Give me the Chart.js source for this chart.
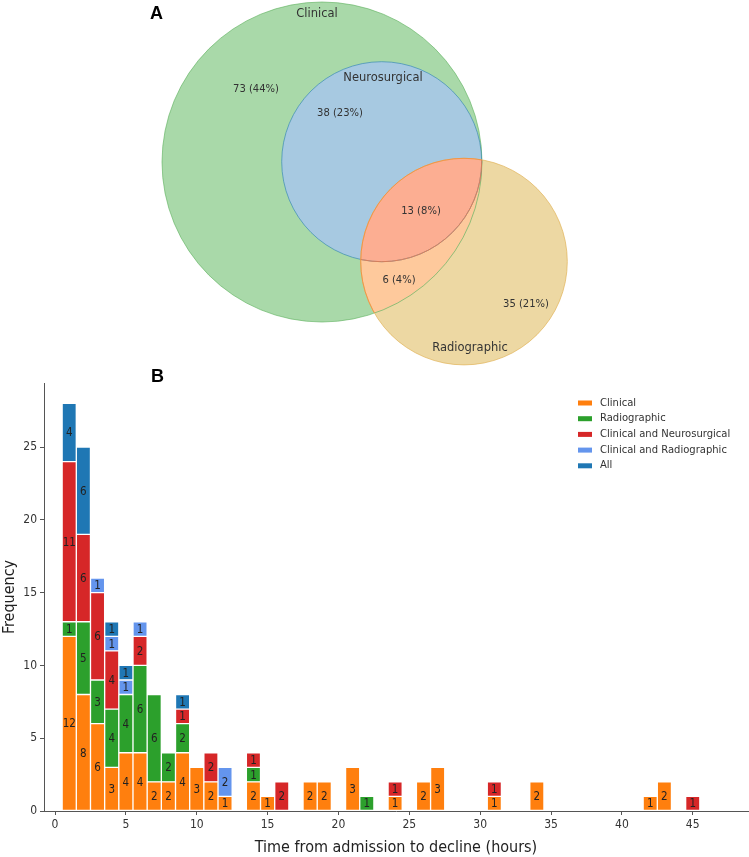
<!DOCTYPE html>
<html>
<head>
<meta charset="utf-8">
<script src="https://cdn.jsdelivr.net/npm/chart.js@4.4.1/dist/chart.umd.min.js"></script>
<style>
  body { margin: 0; background: #fff; width: 749px; height: 857px; position: relative; overflow: hidden; }
  #venn { position: absolute; left: 0; top: 0; }
  #hist { position: absolute; left: 0; top: 370px; }
  .tag { position: absolute; font: bold 18px "Liberation Sans", Arial, sans-serif; color: #000; }
</style>
</head>
<body>
<canvas id="venn" width="749" height="370"></canvas>
<canvas id="hist" width="749" height="487"></canvas>
<div class="tag" style="left:150px; top:3px;">A</div>
<div class="tag" style="left:151px; top:366px;">B</div>
<script>
// ===== DATA =====
// Venn: regions = clinical only, clinical+neuro, all three, clinical+radio, radio only
const vennSets = ['Clinical', 'Neurosurgical', 'Radiographic'];
const vennRegions = ['C', 'CN', 'CNR', 'CR', 'R'];
const vennCounts = [73, 38, 13, 6, 35];

// histogram: hour bins that have any patient
const hours = [1, 2, 3, 4, 5, 6, 7, 8, 9, 10, 11, 12, 14, 15, 16, 18, 19, 21, 22, 24, 26, 27, 31, 34, 42, 43, 45];
const clinical      = [12, 8, 6, 3, 4, 4, 2, 2, 4, 3, 2, 1, 2, 1, 0, 2, 2, 3, 0, 1, 2, 3, 1, 2, 1, 2, 0];
const radiographic  = [1, 5, 3, 4, 4, 6, 6, 2, 2, 0, 0, 0, 1, 0, 0, 0, 0, 0, 1, 0, 0, 0, 0, 0, 0, 0, 0];
const clinNeuro     = [11, 6, 6, 4, 0, 2, 0, 0, 1, 0, 2, 0, 1, 0, 2, 0, 0, 0, 0, 1, 0, 0, 1, 0, 0, 0, 1];
const clinRadio     = [0, 0, 1, 1, 1, 1, 0, 0, 0, 0, 0, 2, 0, 0, 0, 0, 0, 0, 0, 0, 0, 0, 0, 0, 0, 0, 0];
const allThree      = [4, 6, 0, 1, 1, 0, 0, 0, 1, 0, 0, 0, 0, 0, 0, 0, 0, 0, 0, 0, 0, 0, 0, 0, 0, 0, 0];
const seriesNames = ['Clinical', 'Radiographic', 'Clinical and Neurosurgical', 'Clinical and Radiographic', 'All'];
const xTicks = [0, 5, 10, 15, 20, 25, 30, 35, 40, 45];
const yTicks = [0, 5, 10, 15, 20, 25];

// ===== VENN LAYOUT (pixels of the top panel) =====
const circles = [
  { cx: 322, cy: 162, r: 160 },   // clinical
  { cx: 381.7, cy: 161.7, r: 100 }, // neurosurgical
  { cx: 464, cy: 261.6, r: 103.3 }  // radiographic
];
const setLabelPos = [[317, 14], [383, 78], [470, 348]];
const countPos = [[256, 89], [340, 113], [421, 211], [399, 280], [526, 304]];
const regionFill = { C: '#a9d9a9', CN: '#a7c9e1', CNR: '#fcae92', CR: '#fec99c', R: '#edd8a3' };

const vennPlugin = {
  id: 'vennPlugin',
  afterDraw(chart) {
    const ctx = chart.ctx;
    const sx = chart.scales.x, sy = chart.scales.y;
    const path = (c) => {
      const x = sx.getPixelForValue(c.cx), y = sy.getPixelForValue(c.cy);
      const r = sx.getPixelForValue(c.cx + c.r) - x;
      ctx.beginPath();
      ctx.arc(x, y, r, 0, Math.PI * 2);
    };
    const [C, N, R] = circles;
    ctx.save();
    // base fills
    path(R); ctx.fillStyle = regionFill.R; ctx.fill();
    path(C); ctx.fillStyle = regionFill.C; ctx.fill();
    path(N); ctx.fillStyle = regionFill.CN; ctx.fill();
    // clinical & radiographic
    ctx.save(); path(C); ctx.clip();
    path(R); ctx.fillStyle = regionFill.CR; ctx.fill();
    ctx.restore();
    // all three
    ctx.save(); path(N); ctx.clip();
    path(R); ctx.fillStyle = regionFill.CNR; ctx.fill();
    ctx.restore();
    // edges
    ctx.lineWidth = 1;
    path(C); ctx.strokeStyle = 'rgba(90,175,90,0.6)'; ctx.stroke();
    path(N); ctx.strokeStyle = 'rgba(60,140,180,0.7)'; ctx.stroke();
    path(R); ctx.strokeStyle = 'rgba(225,180,90,0.7)'; ctx.stroke();
    ctx.save(); path(C); ctx.clip();
    path(R); ctx.strokeStyle = 'rgba(245,140,60,0.8)'; ctx.stroke();
    ctx.restore();
    ctx.save(); path(R); ctx.clip();
    path(N); ctx.strokeStyle = 'rgba(240,120,70,0.8)'; ctx.stroke();
    ctx.restore();

    // text
    ctx.fillStyle = '#333';
    ctx.textAlign = 'center';
    ctx.textBaseline = 'middle';
    ctx.font = '11.5px "DejaVu Sans"';
    vennSets.forEach((s, i) => {
      ctx.fillText(s, sx.getPixelForValue(setLabelPos[i][0]), sy.getPixelForValue(setLabelPos[i][1]));
    });
    const total = vennCounts.reduce((a, b) => a + b, 0);
    ctx.font = '10px "DejaVu Sans"';
    vennCounts.forEach((v, i) => {
      const pct = Math.round(v / total * 100);
      ctx.fillText(v + ' (' + pct + '%)', sx.getPixelForValue(countPos[i][0]), sy.getPixelForValue(countPos[i][1]));
    });
    ctx.restore();
  }
};

new Chart(document.getElementById('venn'), {
  type: 'scatter',
  data: { datasets: [] },
  options: {
    responsive: false,
    animation: false,
    devicePixelRatio: 1,
    layout: { padding: 0 },
    plugins: { legend: { display: false }, tooltip: { enabled: false } },
    scales: {
      x: { type: 'linear', min: 0, max: 749, display: false },
      y: { type: 'linear', min: 0, max: 370, reverse: true, display: false }
    }
  },
  plugins: [vennPlugin]
});

// ===== HISTOGRAM =====
const colors = ['#ff7f0e', '#2ca02c', '#d62728', '#6495ed', '#1f77b4'];
const seriesData = [clinical, radiographic, clinNeuro, clinRadio, allThree];

const barLabels = {
  id: 'barLabels',
  afterDatasetsDraw(chart) {
    const ctx = chart.ctx;
    ctx.save();
    ctx.font = '11.5px "Liberation Sans Narrow", "DejaVu Sans Condensed", Lato, sans-serif';
    ctx.fillStyle = '#222';
    ctx.textAlign = 'center';
    ctx.textBaseline = 'middle';
    chart.data.datasets.forEach((ds, i) => {
      chart.getDatasetMeta(i).data.forEach((bar, j) => {
        const v = ds.data[j].y;
        if (!v) return;
        ctx.fillText(String(v), bar.x, (bar.y + bar.base) / 2 + 1);
      });
    });
    ctx.restore();
  }
};

const legendBox = {
  id: 'legendBox',
  afterDraw(chart) {
    const ctx = chart.ctx;
    ctx.save();
    ctx.font = '10px "DejaVu Sans"';
    ctx.textBaseline = 'middle';
    chart.data.datasets.forEach((ds, i) => {
      const y = 33 + i * 15.7;
      ctx.fillStyle = ds.backgroundColor;
      ctx.fillRect(578, y - 2.5, 14, 5);
      ctx.fillStyle = '#333';
      ctx.fillText(ds.label, 600, y);
    });
    ctx.restore();
  }
};

const axisFont = '"Liberation Sans Narrow", "DejaVu Sans Condensed", Lato, sans-serif';

new Chart(document.getElementById('hist'), {
  type: 'bar',
  data: {
    datasets: seriesData.map((arr, i) => ({
      label: seriesNames[i],
      data: arr.map((v, j) => ({ x: hours[j], y: v || null })),
      backgroundColor: colors[i],
      borderColor: '#ffffff',
      borderWidth: 1,
      borderSkipped: false,
      barPercentage: 1,
      categoryPercentage: 1
    }))
  },
  options: {
    responsive: false,
    animation: false,
    devicePixelRatio: 1,
    layout: { padding: { top: 13, right: 1, left: 0, bottom: 0 } },
    plugins: { legend: { display: false }, tooltip: { enabled: false } },
    scales: {
      x: {
        type: 'linear',
        stacked: true,
        offset: false,
        min: -0.78,
        max: 48.9,
        afterBuildTicks: (s) => { s.ticks = xTicks.map(v => ({ value: v })); },
        afterFit: (s) => { s.height = 46; },
        grid: { display: true, offset: false, drawOnChartArea: false, drawTicks: true, tickLength: 4, color: '#555' },
        border: { display: true, color: '#555', width: 1 },
        ticks: { color: '#333', font: { family: axisFont, size: 12 }, padding: 3, maxRotation: 0 },
        title: {
          display: true,
          text: 'Time from admission to decline (hours)',
          color: '#222',
          font: { family: axisFont, size: 16 },
          padding: { top: 0, bottom: 0 }
        }
      },
      y: {
        stacked: true,
        min: 0,
        max: 29.4,
        afterBuildTicks: (s) => { s.ticks = yTicks.map(v => ({ value: v })); },
        afterFit: (s) => { s.width = 44; },
        grid: { display: true, drawOnChartArea: false, drawTicks: true, tickLength: 4, color: '#555' },
        border: { display: true, color: '#555', width: 1 },
        ticks: { color: '#333', font: { family: axisFont, size: 12 }, padding: 3 },
        title: {
          display: true,
          text: 'Frequency',
          color: '#222',
          font: { family: axisFont, size: 16 },
          padding: { top: 0, bottom: 0 }
        }
      }
    }
  },
  plugins: [barLabels, legendBox]
});
</script>
</body>
</html>
